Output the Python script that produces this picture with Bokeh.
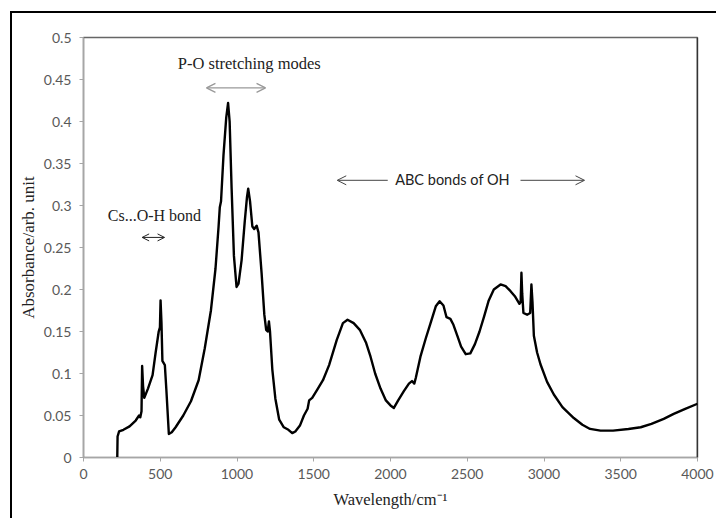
from bokeh.plotting import figure
from bokeh.models import Range1d, FixedTicker, Label, Arrow, OpenHead, Span, ColumnDataSource
from bokeh.embed import file_html
from bokeh.resources import INLINE

# ---- data ----
wavenumber = [220, 222, 232, 260, 300, 340, 362, 370, 378, 382, 388, 396, 420, 450, 470, 490, 498, 502, 508, 514,
              530, 540, 556, 575, 600, 650, 700, 750, 790, 830, 860, 880, 888, 896, 912, 930, 942, 952, 965, 980,
              997, 1010, 1030, 1050, 1065, 1073, 1085, 1100, 1112, 1128, 1140, 1160, 1178, 1190, 1200, 1208, 1215,
              1230, 1250, 1275, 1305, 1335, 1360, 1380, 1410, 1436, 1460, 1470, 1490, 1520, 1560, 1600, 1650, 1690,
              1720, 1760, 1800, 1840, 1870, 1900, 1935, 1970, 2000, 2022, 2050, 2087, 2120, 2140, 2155, 2165, 2195,
              2230, 2261, 2295, 2320, 2345, 2365, 2390, 2410, 2435, 2460, 2490, 2520, 2550, 2580, 2610, 2640, 2673,
              2717, 2750, 2782, 2810, 2840, 2848, 2853, 2858, 2866, 2890, 2910, 2918, 2925, 2934, 2955, 2977, 3020,
              3064, 3120, 3194, 3250, 3300, 3368, 3450, 3550, 3630, 3700, 3780, 3845, 3920, 4000]
absorbance = [0.0, 0.025, 0.031, 0.033, 0.037, 0.044, 0.050, 0.048, 0.055, 0.109, 0.085, 0.071, 0.082, 0.098, 0.125,
              0.150, 0.155, 0.187, 0.160, 0.115, 0.110, 0.080, 0.028, 0.030, 0.036, 0.050, 0.067, 0.092, 0.130, 0.175,
              0.225, 0.275, 0.298, 0.305, 0.360, 0.405, 0.422, 0.400, 0.320, 0.240, 0.203, 0.207, 0.235, 0.280, 0.310,
              0.320, 0.305, 0.275, 0.272, 0.276, 0.268, 0.220, 0.170, 0.152, 0.150, 0.162, 0.150, 0.105, 0.070, 0.045,
              0.036, 0.033, 0.029, 0.031, 0.038, 0.050, 0.058, 0.068, 0.071, 0.080, 0.092, 0.110, 0.140, 0.160, 0.164,
              0.160, 0.152, 0.137, 0.120, 0.100, 0.082, 0.068, 0.062, 0.059, 0.068, 0.079, 0.088, 0.091, 0.088, 0.095,
              0.120, 0.142, 0.160, 0.180, 0.186, 0.181, 0.167, 0.165, 0.158, 0.145, 0.132, 0.123, 0.124, 0.135, 0.150,
              0.168, 0.187, 0.200, 0.206, 0.204, 0.198, 0.192, 0.183, 0.185, 0.220, 0.195, 0.172, 0.170, 0.172, 0.206,
              0.185, 0.145, 0.125, 0.111, 0.090, 0.075, 0.060, 0.047, 0.039, 0.034, 0.032, 0.032, 0.034, 0.036, 0.040,
              0.046, 0.052, 0.058, 0.064]

x_ticks = [0, 500, 1000, 1500, 2000, 2500, 3000, 3500, 4000]
y_ticks = [0, 0.05, 0.1, 0.15, 0.2, 0.25, 0.3, 0.35, 0.4, 0.45, 0.5]
y_tick_labels = ["0", "0.05", "0.1", "0.15", "0.2", "0.25", "0.3", "0.35", "0.4", "0.45", "0.5"]

# annotations: (text, x, y)
po_label = ("P-O stretching modes", 1080, 0.469)
po_arrow = (801, 1186, 0.44)
cs_label = ("Cs...O-H bond", 462, 0.288)
cs_arrow = (382, 528, 0.262)
abc_label = ("ABC bonds of OH", 2404, 0.331)
abc_left_arrow = (1982, 1653, 0.33)
abc_right_arrow = (2847, 3264, 0.33)

SERIF = "Liberation Serif"
SANS = "Lato"

p = figure(width=706, height=507, x_range=Range1d(0, 4000), y_range=Range1d(0, 0.5),
           output_backend="svg", toolbar_location=None,
           min_border_left=71, min_border_right=21, min_border_top=24, min_border_bottom=63)
p.styles = {"margin-left": "10px", "margin-top": "11px",
            "border-left": "2px solid black", "border-top": "2px solid black"}

p.xgrid.visible = False
p.ygrid.visible = False
p.outline_line_color = "#666666"
p.outline_line_width = 1.5
p.background_fill_color = "white"
p.border_fill_color = "white"

src = ColumnDataSource(data=dict(x=wavenumber, y=absorbance))
p.line("x", "y", source=src, line_color="black", line_width=2.4, line_join="round")

p.add_layout(Span(location=4000, dimension="height", line_color="black", line_width=1.5))

for ax in (p.xaxis, p.yaxis):
    ax.axis_line_color = "#a6a6a6"
    ax.axis_line_width = 1.2
    ax.major_tick_line_color = "#a6a6a6"
    ax.major_tick_out = 4
    ax.major_tick_in = 0
    ax.minor_tick_line_color = None
    ax.major_label_text_font = SANS
    ax.major_label_text_font_size = "14px"
    ax.major_label_text_color = "#595959"
    ax.axis_label_text_font = SERIF
    ax.axis_label_text_font_size = "16.5px"
    ax.axis_label_text_font_style = "normal"
    ax.axis_label_text_color = "#222222"

p.yaxis.axis_label_text_font_size = "17px"
p.xaxis.ticker = FixedTicker(ticks=x_ticks)
p.yaxis.ticker = FixedTicker(ticks=y_ticks)
p.yaxis.major_label_overrides = {t: l for t, l in zip(y_ticks, y_tick_labels)}
p.xaxis.major_label_standoff = 7
p.yaxis.major_label_standoff = 8
p.xaxis.axis_label = "Wavelength/cm\u207b\u00b9"
p.yaxis.axis_label = "Absorbance/arb. unit"
p.xaxis.axis_label_standoff = 8
p.yaxis.axis_label_standoff = 3

p.add_layout(Label(x=po_label[1], y=po_label[2], text=po_label[0], text_font=SERIF, text_font_size="16.5px",
                   text_color="#222222", text_align="center", text_baseline="middle"))
p.add_layout(Arrow(x_start=po_arrow[0], x_end=po_arrow[1], y_start=po_arrow[2], y_end=po_arrow[2],
                   line_color="#999999", line_width=1.3,
                   start=OpenHead(size=9, line_color="#999999", line_width=1.3),
                   end=OpenHead(size=9, line_color="#999999", line_width=1.3)))

p.add_layout(Label(x=cs_label[1], y=cs_label[2], text=cs_label[0], text_font=SERIF, text_font_size="16px",
                   text_color="#222222", text_align="center", text_baseline="middle"))
p.add_layout(Arrow(x_start=cs_arrow[0], x_end=cs_arrow[1], y_start=cs_arrow[2], y_end=cs_arrow[2],
                   line_color="#222222", line_width=1.0,
                   start=OpenHead(size=7, line_color="#222222", line_width=1.0),
                   end=OpenHead(size=7, line_color="#222222", line_width=1.0)))

p.add_layout(Label(x=abc_label[1], y=abc_label[2], text=abc_label[0], text_font=SANS, text_font_size="14.5px",
                   text_color="#222222", text_align="center", text_baseline="middle"))
for a in (abc_left_arrow, abc_right_arrow):
    p.add_layout(Arrow(x_start=a[0], x_end=a[1], y_start=a[2], y_end=a[2],
                       line_color="#444444", line_width=1.0,
                       end=OpenHead(size=9, line_color="#444444", line_width=1.0)))

open("out.html", "w").write(file_html(p, INLINE))
